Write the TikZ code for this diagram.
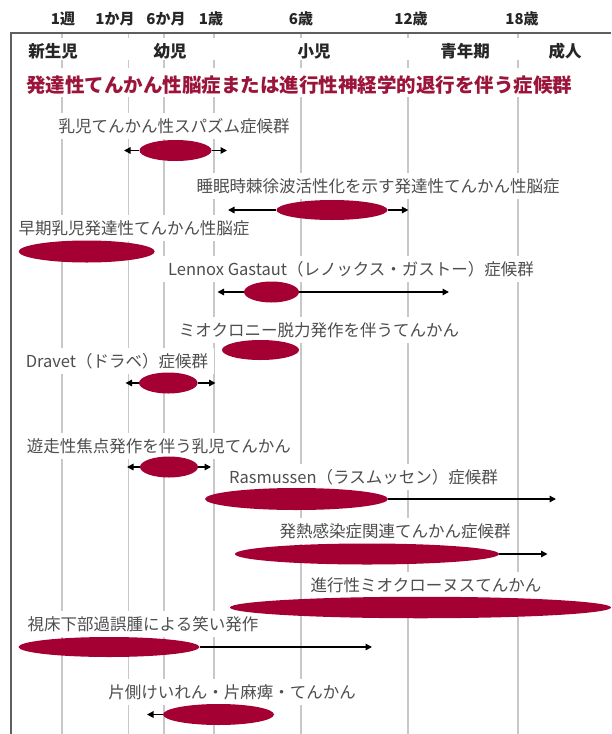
\documentclass[tikz,border=0pt]{standalone}
\usepackage{fontspec}
\newfontfamily\jp{Noto Sans CJK JP}
\usetikzlibrary{shapes.geometric,arrows.meta}
\definecolor{crim}{RGB}{165,0,52}
\definecolor{ttl}{RGB}{155,20,58}
\definecolor{gridc}{RGB}{200,200,200}
\definecolor{framec}{RGB}{95,95,95}
\definecolor{lbl}{RGB}{78,78,78}
\begin{document}
\begin{tikzpicture}[x=1pt,y=-1pt,
  ev/.style={ellipse, fill=crim, inner sep=0pt},
  lab/.style={font=\jp\fontsize{16.5}{18}\selectfont, text=lbl, fill=white, inner xsep=6pt, inner ysep=5pt},
  ticklab/.style={font=\jp\bfseries\fontsize{15}{16}\selectfont, text=black!85},
  agelab/.style={font=\jp\bfseries\fontsize{16.5}{18}\selectfont, text=black!85},
  ttlstyle/.style={font=\jp\bfseries\fontsize{19.5}{21}\selectfont, text=ttl},
  gline/.style={draw=gridc, line width=1.5pt},
  arr/.style={draw=black, line width=1.5pt, -{Triangle[length=6.5pt,width=6.5pt]}},
  band/.style={fill=white}
]
\useasboundingbox[fill=white] (0,0) rectangle (611,734);
% grid lines
\foreach \gx in {62,128.5,164,214,301,408,518}{
  \draw[gline] (\gx,33) -- (\gx,734);
}
% white bands behind header rows
\fill[band] (13,38) rectangle (611,60);
\fill[band] (13,68) rectangle (611,97);
% frame
\draw[framec, line width=2pt] (11,734) -- (11,33) -- (611,33);
% tick labels
\node[ticklab] (t1) at (63,19) {1週};
\node[ticklab] (t2) at (115,19) {1か月};
\node[ticklab] (t3) at (166,19) {6か月};
\node[ticklab] (t4) at (211,19) {1歳};
\node[ticklab] (t5) at (301,19) {6歳};
\node[ticklab] (t6) at (411,19) {12歳};
\node[ticklab] (t7) at (522,19) {18歳};
% age groups
\node[agelab] (g1) at (53,51) {新生児};
\node[agelab] (g2) at (170,51) {幼児};
\node[agelab] (g3) at (314,51) {小児};
\node[agelab] (g4) at (465,51) {青年期};
\node[agelab] (g5) at (565,51) {成人};
% title
\node[ttlstyle, anchor=west, inner sep=0pt] (title) at (26,85) {発達性てんかん性脳症または進行性神経学的退行を伴う症候群};
% labels
\node[lab] (l1) at (174,126) {乳児てんかん性スパズム症候群};
\node[lab] (l2) at (378,186) {睡眠時棘徐波活性化を示す発達性てんかん性脳症};
\node[lab] (l3) at (134,228) {早期乳児発達性てんかん性脳症};
\node[lab] (l4) at (351,269) {Lennox Gastaut（レノックス・ガストー）症候群};
\node[lab] (l5) at (319,330) {ミオクロニー脱力発作を伴うてんかん};
\node[lab] (l6) at (117,361) {Dravet（ドラベ）症候群};
\node[lab] (l7) at (159,446) {遊走性焦点発作を伴う乳児てんかん};
\node[lab] (l8) at (363.5,477) {Rasmussen（ラスムッセン）症候群};
\node[lab] (l9) at (395,531) {発熱感染症関連てんかん症候群};
\node[lab] (l10) at (426,585) {進行性ミオクローヌスてんかん};
\node[lab] (l11) at (143,624) {視床下部過誤腫による笑い発作};
\node[lab] (l12) at (232,692) {片側けいれん・片麻痺・てんかん};
% ellipses
\node[ev, minimum width=72pt, minimum height=21pt] (e1) at (175.5,150.5) {};
\node[ev, minimum width=111pt, minimum height=20pt] (e2) at (332,210) {};
\node[ev, minimum width=136pt, minimum height=22pt] (e3) at (86.7,251.5) {};
\node[ev, minimum width=55pt, minimum height=21pt] (e4) at (271.5,292) {};
\node[ev, minimum width=77pt, minimum height=20pt] (e5) at (260.5,350) {};
\node[ev, minimum width=58.6pt, minimum height=21pt] (e6) at (168.3,383) {};
\node[ev, minimum width=58pt, minimum height=21pt] (e7) at (169,467) {};
\node[ev, minimum width=183pt, minimum height=22pt] (e8) at (296.5,499) {};
\node[ev, minimum width=264pt, minimum height=21pt] (e9) at (367,554) {};
\node[ev, minimum width=381pt, minimum height=21.5pt] (e10) at (420.5,607.5) {};
\node[ev, minimum width=181pt, minimum height=20pt] (e11) at (109,647) {};
\node[ev, minimum width=111pt, minimum height=21pt] (e12) at (218.5,714.5) {};
% arrow end points
\coordinate (c1l) at (124,150.5);   \coordinate (c1r) at (227,150.5);
\coordinate (c2l) at (228,210);     \coordinate (c2r) at (408.4,210);
\coordinate (c4l) at (217.5,292);   \coordinate (c4r) at (449,292);
\coordinate (c6l) at (125.5,383);   \coordinate (c6r) at (215.5,383);
\coordinate (c7l) at (127,467);     \coordinate (c7r) at (211,467);
\coordinate (c8r) at (556,499);
\coordinate (c9r) at (547.5,554);
\coordinate (c11r) at (372,647);
\coordinate (c12l) at (147,714.5);
% arrows
\draw[arr] (e1.west) -- (c1l);  \draw[arr] (e1.east) -- (c1r);
\draw[arr] (e2.west) -- (c2l);  \draw[arr] (e2.east) -- (c2r);
\draw[arr] (e4.west) -- (c4l);  \draw[arr] (e4.east) -- (c4r);
\draw[arr] (e6.west) -- (c6l);  \draw[arr] (e6.east) -- (c6r);
\draw[arr] (e7.west) -- (c7l);  \draw[arr] (e7.east) -- (c7r);
\draw[arr] (e8.east) -- (c8r);
\draw[arr] (e9.east) -- (c9r);
\draw[arr] (e11.east) -- (c11r);
\draw[arr] (e12.west) -- (c12l);
\end{tikzpicture}
\end{document}
